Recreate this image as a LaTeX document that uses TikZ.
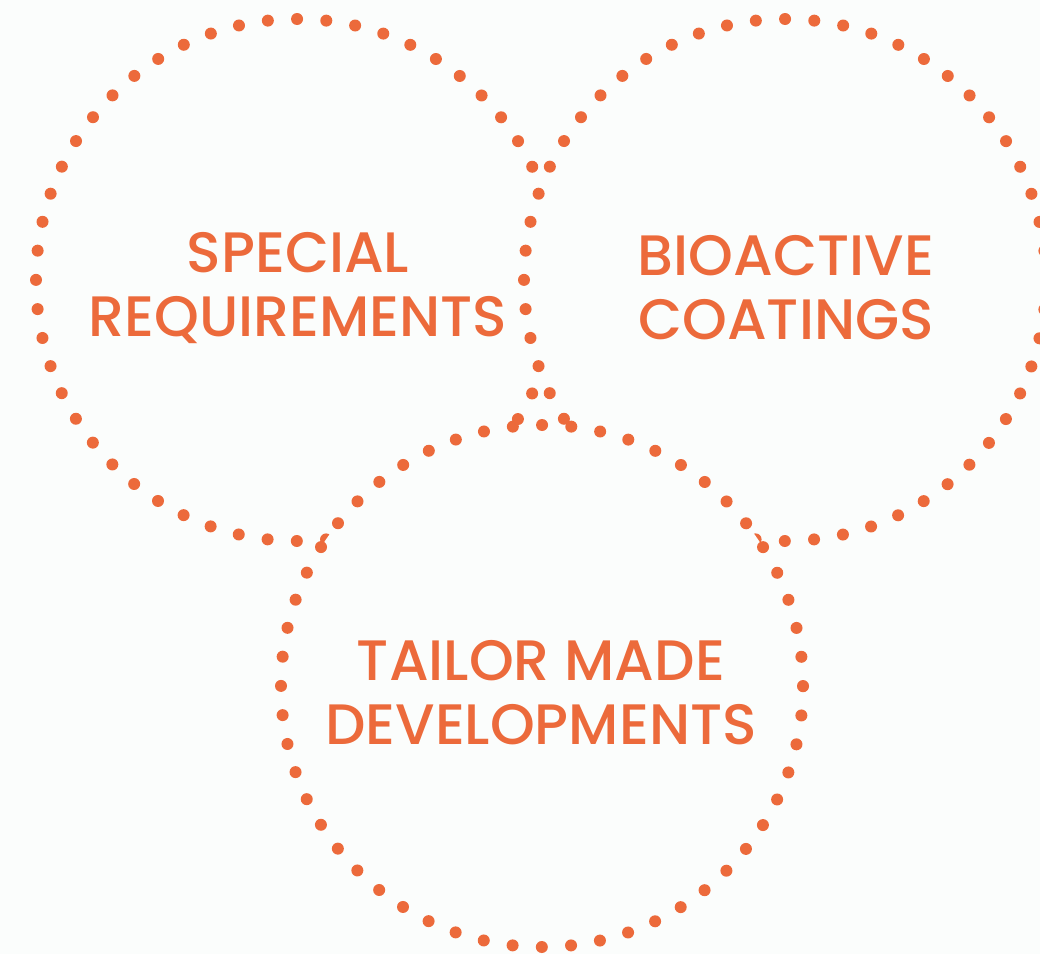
\documentclass[tikz,border=0pt]{standalone}
\usepackage{fontspec}
\setmainfont{Poppins}[UprightFont=* Medium]
\definecolor{vennorange}{HTML}{EC6A3B}
\definecolor{paper}{HTML}{FBFDFC}
\tikzset{
  venn/.style={circle,minimum size=522pt,inner sep=0pt,fill=paper,draw=vennorange,
    line width=12pt,line cap=round,dash pattern=on 0pt off 29.284pt},
  vlabel/.style={text=vennorange,align=center,font=\fontsize{57}{64}\selectfont}
}
\begin{document}
\begin{tikzpicture}[x=1pt,y=-1pt]
\fill[paper] (0,0) rectangle (1040,954);
\useasboundingbox (0,0) rectangle (1040,954);
%circles
\node[venn] (special) at (297,280) {};
\node[venn] (bioactive) at (785,280) {};
\node[venn] (tailor) at (542,686) {};
%labels
\node[vlabel] (specialtxt) at (298,288) {SPECIAL\\REQUIREMENTS};
\node[vlabel] (bioactivetxt) at (786,288) {BIOACTIVE\\COATINGS};
\node[vlabel] (tailortxt) at (541,693) {TAILOR MADE\\DEVELOPMENTS};
\end{tikzpicture}
\end{document}
